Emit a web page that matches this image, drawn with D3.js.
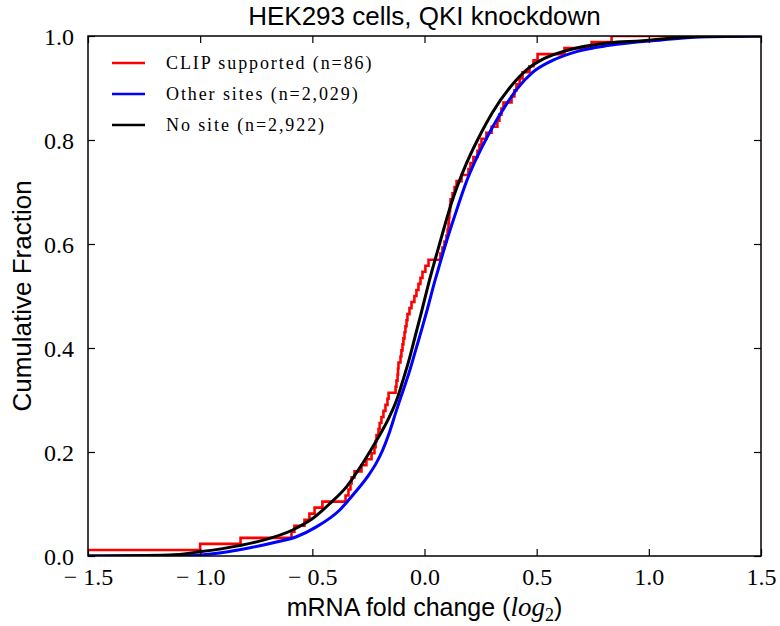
<!DOCTYPE html>
<html>
<head>
<meta charset="utf-8">
<script src="https://cdn.jsdelivr.net/npm/d3@7"></script>
<style>
  body { margin: 0; background: #fff; }
  svg { display: block; }
</style>
</head>
<body>
<svg id="chart"></svg>
<script>
// axis ticks
const xTicks = [-1.5, -1.0, -0.5, 0.0, 0.5, 1.0, 1.5];
const yTicks = [0.0, 0.2, 0.4, 0.6, 0.8, 1.0];

// legend labels
const seriesNames = ["CLIP supported (n=86)", "Other sites (n=2,029)", "No site (n=2,922)"];
const seriesColors = ["#ff0000", "#0000ff", "#000000"];

// CLIP supported: 86 fold changes (read from the step positions)
const clipFolds = [
  -1.62, -1.00, -0.82, -0.593, -0.58, -0.535, -0.513, -0.49, -0.455, -0.352,
  -0.339, -0.33, -0.325, -0.312, -0.281, -0.259, -0.236, -0.223, -0.218, -0.214,
  -0.205, -0.20, -0.192, -0.183, -0.174, -0.165, -0.16, -0.129, -0.125, -0.12,
  -0.118, -0.116, -0.107, -0.103, -0.098, -0.094, -0.089, -0.085, -0.08, -0.076,
  -0.067, -0.058, -0.045, -0.036, -0.027, -0.018, -0.009, 0.004, 0.018, 0.071,
  0.08, 0.089, 0.098, 0.103, 0.107, 0.109, 0.111, 0.114, 0.116, 0.125,
  0.134, 0.143, 0.165, 0.196, 0.205, 0.218, 0.236, 0.245, 0.254, 0.276,
  0.299, 0.325, 0.334, 0.343, 0.352, 0.388, 0.401, 0.41, 0.424, 0.437,
  0.468, 0.486, 0.504, 0.624, 0.745, 0.834
];

// Other sites: cumulative curve
const otherX = [-1.5, -1.2, -1.003, -0.825, -0.66, -0.571, -0.482, -0.379, -0.312, -0.245,
  -0.212, -0.187, -0.16, -0.125, -0.098, -0.067, -0.04, -0.013, 0.013, 0.045,
  0.067, 0.103, 0.143, 0.187, 0.232, 0.276, 0.321, 0.348, 0.41, 0.482,
  0.571, 0.678, 0.825, 1.048, 1.226, 1.5];
const otherF = [0.0, 0.0005, 0.002, 0.012, 0.027, 0.037, 0.056, 0.088, 0.121, 0.158,
  0.181, 0.203, 0.233, 0.28, 0.315, 0.355, 0.395, 0.435, 0.475, 0.527,
  0.56, 0.612, 0.665, 0.72, 0.765, 0.803, 0.838, 0.857, 0.897, 0.93,
  0.953, 0.97, 0.982, 0.992, 0.998, 1.0];

// No site
const noSiteX = [-1.5, -1.137, -1.003, -0.825, -0.722, -0.588, -0.499, -0.424, -0.348, -0.276,
  -0.214, -0.156, -0.12, -0.098, -0.067, -0.04, -0.013, 0.022, 0.067, 0.125,
  0.187, 0.254, 0.303, 0.379, 0.455, 0.526, 0.602, 0.678, 0.825, 0.972,
  1.048, 1.226, 1.5];
const noSiteF = [0.0, 0.002, 0.008, 0.02, 0.03, 0.05, 0.072, 0.1, 0.133, 0.178,
  0.222, 0.268, 0.305, 0.335, 0.38, 0.425, 0.47, 0.53, 0.6, 0.685,
  0.755, 0.815, 0.853, 0.9, 0.935, 0.955, 0.968, 0.977, 0.987, 0.991,
  0.994, 0.999, 1.0];

const W = 780, H = 626;
const margin = { top: 36, right: 19, bottom: 70, left: 88 };
const width = W - margin.left - margin.right;
const height = H - margin.top - margin.bottom;

const svg = d3.select("#chart").attr("width", W).attr("height", H);
svg.append("rect").attr("width", W).attr("height", H).attr("fill", "#fff");

const x = d3.scaleLinear().domain([-1.5, 1.5]).range([0, width]);
const y = d3.scaleLinear().domain([0, 1]).range([height, 0]);

const g = svg.append("g").attr("transform", `translate(${margin.left},${margin.top})`);

svg.append("defs").append("clipPath").attr("id", "plotclip")
  .append("rect").attr("width", width).attr("height", height);

const plot = g.append("g").attr("clip-path", "url(#plotclip)");

// ECDF for the CLIP set, drawn as steps
const n = clipFolds.length;
const clipPts = [[clipFolds[0] - 0.5, 0]]
  .concat(clipFolds.map((v, i) => [v, (i + 1) / n]))
  .concat([[2.0, 1]]);
const stepLine = d3.line().x(d => x(d[0])).y(d => y(d[1])).curve(d3.curveStepAfter);
const smoothLine = d3.line().x(d => x(d[0])).y(d => y(d[1])).curve(d3.curveMonotoneX);

plot.append("path")
  .attr("d", stepLine(clipPts))
  .attr("fill", "none").attr("stroke", seriesColors[0]).attr("stroke-width", 2.6);

plot.append("path")
  .attr("d", smoothLine(otherX.map((v, i) => [v, otherF[i]])))
  .attr("fill", "none").attr("stroke", seriesColors[1]).attr("stroke-width", 3);

plot.append("path")
  .attr("d", smoothLine(noSiteX.map((v, i) => [v, noSiteF[i]])))
  .attr("fill", "none").attr("stroke", seriesColors[2]).attr("stroke-width", 3);

// axes, ticks inward on all four sides
const tickFont = "'Liberation Serif', 'Times New Roman', serif";
const sansFont = "'Liberation Sans', Arial, sans-serif";
const fmt = v => (v < 0 ? "\u2212 " : "") + Math.abs(v).toFixed(1);

const xAxisB = g.append("g").attr("transform", `translate(0,${height})`)
  .call(d3.axisBottom(x).tickValues(xTicks).tickSizeInner(-7).tickSizeOuter(0).tickPadding(12).tickFormat(fmt));
const xAxisT = g.append("g")
  .call(d3.axisTop(x).tickValues(xTicks).tickSizeInner(-7).tickSizeOuter(0).tickFormat(""));
const yAxisL = g.append("g")
  .call(d3.axisLeft(y).tickValues(yTicks).tickSizeInner(-7).tickSizeOuter(0).tickPadding(14).tickFormat(d => d.toFixed(1)));
const yAxisR = g.append("g").attr("transform", `translate(${width},0)`)
  .call(d3.axisRight(y).tickValues(yTicks).tickSizeInner(-7).tickSizeOuter(0).tickFormat(""));

[xAxisB, xAxisT, yAxisL, yAxisR].forEach(a => {
  a.select(".domain").remove();
  a.selectAll(".tick line").attr("stroke", "#000").attr("stroke-width", 1.2);
  a.selectAll("text").attr("font-family", tickFont).attr("font-size", 24).attr("fill", "#000");
});
yAxisL.selectAll("text").attr("dy", "0.36em");

g.append("rect").attr("width", width).attr("height", height)
  .attr("fill", "none").attr("stroke", "#000").attr("stroke-width", 1.5);

// legend
const legend = svg.append("g");
seriesNames.forEach((name, i) => {
  const ly = 63 + i * 31;
  legend.append("line").attr("x1", 112).attr("x2", 145).attr("y1", ly).attr("y2", ly)
    .attr("stroke", seriesColors[i]).attr("stroke-width", 2.6);
  legend.append("text").attr("x", 166).attr("y", ly + 6)
    .attr("font-family", tickFont).attr("font-size", 18).attr("letter-spacing", 1.9)
    .text(name);
});

// titles
svg.append("text")
  .attr("x", margin.left + width / 2).attr("y", 25)
  .attr("text-anchor", "middle")
  .attr("font-family", sansFont).attr("font-size", 26)
  .text("HEK293 cells, QKI knockdown");

svg.append("text")
  .attr("transform", `translate(31,${margin.top + height / 2}) rotate(-90)`)
  .attr("text-anchor", "middle")
  .attr("font-family", sansFont).attr("font-size", 26)
  .text("Cumulative Fraction");

const xl = svg.append("text")
  .attr("x", margin.left + width / 2).attr("y", 616)
  .attr("text-anchor", "middle")
  .attr("font-family", sansFont).attr("font-size", 25);
xl.append("tspan").text("mRNA fold change (");
xl.append("tspan").attr("font-family", tickFont).attr("font-style", "italic").attr("font-size", 27).text("log");
xl.append("tspan").attr("font-family", tickFont).attr("font-size", 18).attr("dy", 5).text("2");
xl.append("tspan").attr("dy", -5).text(")");
</script>
</body>
</html>
